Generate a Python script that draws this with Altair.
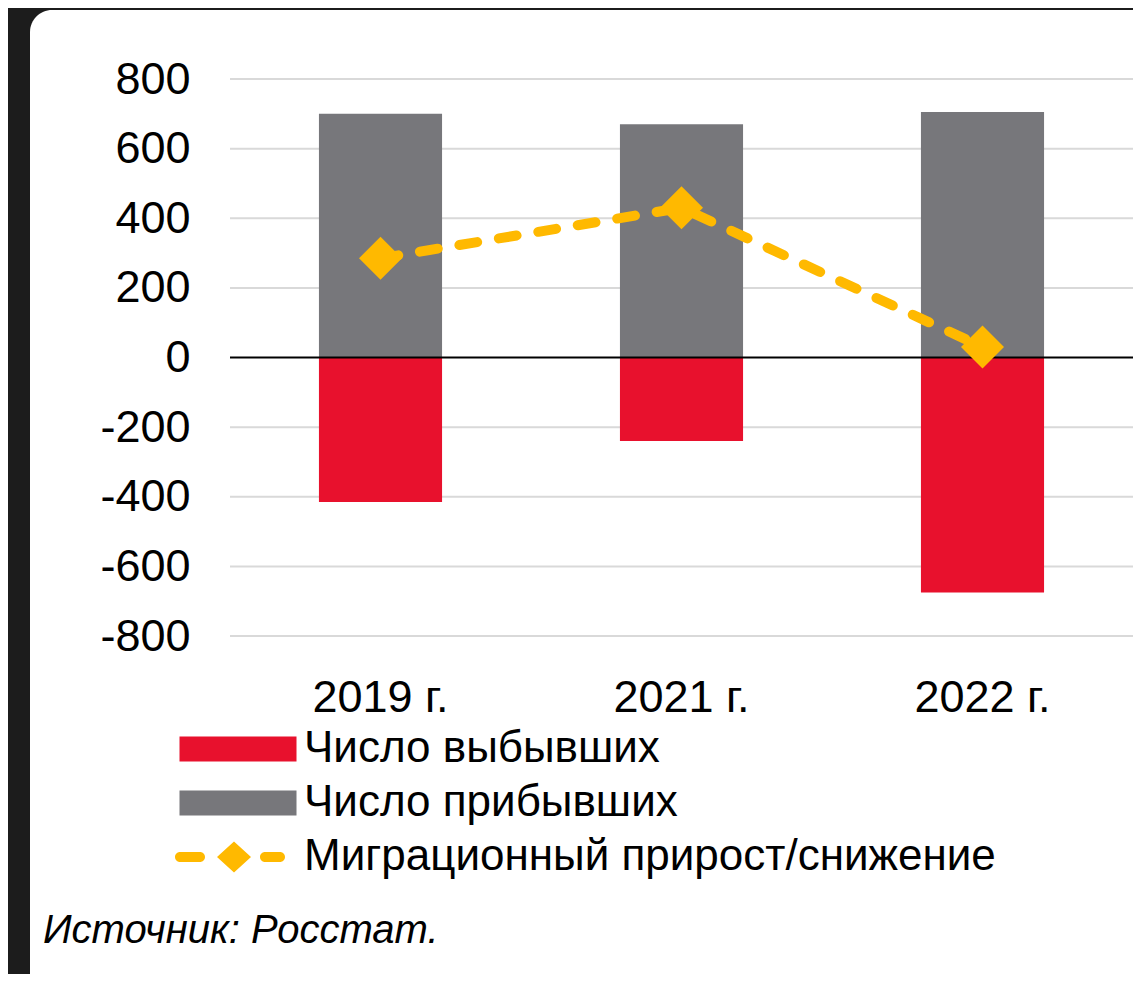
import altair as alt
import pandas as pd

# ---- data ----
years = ["2019 г.", "2021 г.", "2022 г."]
departed = [-415, -240, -675]   # Число выбывших
arrived = [700, 670, 705]       # Число прибывших
net = [285, 430, 30]            # Миграционный прирост/снижение
series_names = ["Число выбывших", "Число прибывших"]
net_name = "Миграционный прирост/снижение"
y_ticks = [-800, -600, -400, -200, 0, 200, 400, 600, 800]
source_text = "Источник: Росстат."

RED = "#E8112D"
GRAY = "#77777B"
YELLOW = "#FFB900"
FONT = "Liberation Sans"

bars_df = pd.DataFrame({
    "year": years * 2,
    "series": [series_names[0]] * 3 + [series_names[1]] * 3,
    "value": departed + arrived,
})
net_df = pd.DataFrame({"year": years, "value": net, "label": [net_name] * 3})
grid_df = pd.DataFrame({"value": [t for t in y_ticks if t != 0]})
zero_df = pd.DataFrame({"value": [0]})
card_df = pd.DataFrame({"c": [0]})

W, H = 903, 557
x_scale = alt.Scale(domain=years, paddingInner=0.591, paddingOuter=0.2955)
y_scale = alt.Scale(domain=[-800, 800], nice=False, zero=False)

# legend symbols: scaled by sqrt(size)/2 = 20 px per unit
RECT_PATH = "M-2.925,-0.625H2.925V0.625H-2.925Z"
DD_PATH = ("M-2.5,-0.25H-1.5A0.25,0.25 0 0 1 -1.5,0.25H-2.5A0.25,0.25 0 0 1 -2.5,-0.25Z"
           "M0.2,-0.78L1.05,0L0.2,0.78L-0.65,0Z"
           "M1.75,-0.25H2.5A0.25,0.25 0 0 1 2.5,0.25H1.75A0.25,0.25 0 0 1 1.75,-0.25Z")

y_axis = alt.Axis(values=y_ticks, labelExpr="'' + datum.value", grid=False, domain=False,
                  ticks=False, labelPadding=40, labelFontSize=45, labelFont=FONT,
                  labelColor="black", title=None, zindex=1)
x_axis = alt.Axis(labelAngle=0, domain=False, ticks=False, labelPadding=39,
                  labelFontSize=45, labelFont=FONT, labelColor="black",
                  title=None, grid=False, zindex=1)

card = alt.Chart(card_df).mark_rect(color="white", cornerRadius=22).encode(
    x=alt.value(-200), x2=alt.value(960), y=alt.value(-69), y2=alt.value(940)
)

grid = alt.Chart(grid_df).mark_rule(color="#D9D9D9", strokeWidth=2).encode(
    y=alt.Y("value:Q", scale=y_scale, axis=y_axis)
)

bars = alt.Chart(bars_df).mark_bar(cornerRadius=0).encode(
    x=alt.X("year:N", scale=x_scale, sort=years, axis=x_axis),
    y=alt.Y("value:Q", scale=y_scale, stack=None, axis=y_axis),
    color=alt.Color("series:N",
                    scale=alt.Scale(domain=series_names, range=[RED, GRAY]),
                    legend=alt.Legend(orient="none", legendX=-14, legendY=648, title=None,
                                      symbolType=RECT_PATH, symbolSize=1600,
                                      symbolStrokeWidth=0, labelFontSize=44, labelFont=FONT,
                                      labelColor="black", labelOffset=44, rowPadding=10,
                                      labelLimit=800)),
)

zero = alt.Chart(zero_df).mark_rule(color="black", strokeWidth=2).encode(
    y=alt.Y("value:Q", scale=y_scale, axis=y_axis)
)

line = alt.Chart(net_df).mark_line(color=YELLOW, strokeWidth=10, strokeCap="round").encode(
    x=alt.X("year:N", scale=x_scale, sort=years, axis=x_axis),
    y=alt.Y("value:Q", scale=y_scale, axis=y_axis),
    strokeDash=alt.StrokeDash("label:N",
                              scale=alt.Scale(domain=[net_name], range=[[18, 22]]),
                              legend=alt.Legend(orient="none", legendX=-22, legendY=756,
                                                title=None, symbolType=DD_PATH,
                                                symbolSize=1600, symbolFillColor=YELLOW,
                                                symbolStrokeColor=YELLOW, symbolStrokeWidth=0,
                                                labelFontSize=44, labelFont=FONT,
                                                labelColor="black", labelOffset=52,
                                                labelLimit=900)),
)

points = alt.Chart(net_df).mark_point(shape="diamond", filled=True, size=1850,
                                      color=YELLOW, opacity=1).encode(
    x=alt.X("year:N", scale=x_scale, sort=years, axis=x_axis),
    y=alt.Y("value:Q", scale=y_scale, axis=y_axis),
)

chart = alt.layer(card, grid, bars, zero, line, points).properties(
    width=W, height=H,
    autosize=alt.AutoSizeParams(type="none"),
    padding={"left": 222, "top": 71, "right": 0, "bottom": 338},
    background="#1C1C1C",
    title=alt.TitleParams(source_text, orient="bottom", anchor="start", fontSize=40,
                          font=FONT, fontStyle="italic", fontWeight="normal",
                          color="black", dx=13, dy=-108, offset=0),
).configure_view(stroke=None)

chart.save("out.html", embed_options={"renderer": "svg", "actions": False})
